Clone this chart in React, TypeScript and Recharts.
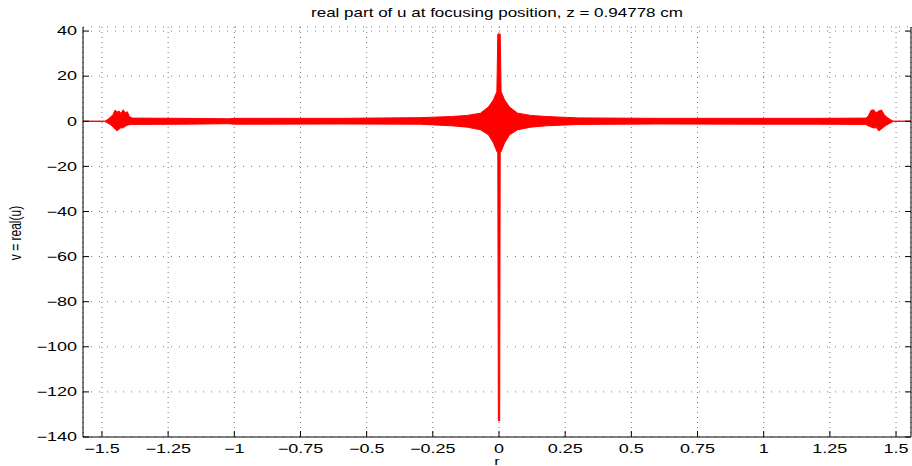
import React from 'react';
import { ComposedChart, Area, XAxis, YAxis, CartesianGrid } from 'recharts';

// envelope of the oscillating field
const rPos = [
  -1.5716, -1.49, -1.478, -1.468, -1.458, -1.45, -1.443, -1.436, -1.428, -1.42, -1.412, -1.404, -1.396, -1.385,
  -1.2, -1.02, -1.0, -0.6, -0.3, -0.18, -0.12, -0.07, -0.04, -0.021, -0.008, -0.0045, -0.0025,
  0.0025, 0.0045, 0.008, 0.021, 0.04, 0.07, 0.12, 0.18, 0.3, 0.6, 1.0, 1.2,
  1.385, 1.395, 1.405, 1.415, 1.425, 1.435, 1.445, 1.455, 1.465, 1.478, 1.49, 1.5565,
];
const vLow = [
  0, 0, -0.8, -1.5, -2.5, -3.5, -4.2, -3.6, -2.8, -3.0, -2.2, -1.8, -1.5, -1.4,
  -1.3, -1.1, -1.3, -1.2, -1.3, -2.0, -2.6, -3.8, -6.0, -9.6, -13.4, -14, -132.8,
  -132.8, -14, -13.4, -9.6, -6.0, -3.8, -2.6, -2.0, -1.4, -1.2, -1.3, -1.3,
  -1.4, -2.0, -2.5, -3.0, -2.8, -4.2, -3.4, -2.4, -1.6, -0.8, 0, 0,
];
const vHigh = [
  0, 0, 0.8, 1.8, 3.0, 5.0, 4.0, 4.6, 3.5, 5.1, 3.8, 4.2, 2.0, 1.4,
  1.3, 1.1, 1.3, 1.3, 1.6, 2.1, 2.6, 3.6, 6.3, 9.5, 13.2, 38.7, 38.7,
  38.7, 38.7, 13.2, 9.5, 6.3, 3.6, 2.6, 2.1, 1.5, 1.3, 1.3, 1.3,
  1.4, 2.2, 4.8, 5.1, 3.8, 4.6, 5.0, 3.0, 1.8, 0.8, 0, 0,
];

const xTicks = [-1.5, -1.25, -1, -0.75, -0.5, -0.25, 0, 0.25, 0.5, 0.75, 1, 1.25, 1.5];
const yTicks = [-140, -120, -100, -80, -60, -40, -20, 0, 20, 40];
const xDomain = [-1.5716, 1.5565];
const yDomain = [-140, 41.8];

const data = rPos.map((r, i) => ({ r, v: [vLow[i], vHigh[i]] }));

const FONT = '"Liberation Sans", Arial, Helvetica, sans-serif';
const fmt = (v: number) => (v < 0 ? '\u2212' + Math.abs(v) : String(v));

const BottomTick = ({ x, y, payload }: any) => (
  <g>
    <line x1={x} y1={y} x2={x} y2={y - 6} stroke="#000" />
    <text
      transform={`translate(${x},${y + 16}) scale(1.5,1)`}
      textAnchor="middle"
      fontSize={12}
      fontFamily={FONT}
      fill="#000"
    >
      {fmt(payload.value)}
    </text>
  </g>
);

const TopTick = ({ x, y }: any) => <line x1={x} y1={y} x2={x} y2={y + 6} stroke="#000" />;

const LeftTick = ({ x, y, payload }: any) => (
  <g>
    <line x1={x} y1={y} x2={x + 6} y2={y} stroke="#000" />
    <text
      transform={`translate(${x - 6},${y + 4.3}) scale(1.5,1)`}
      textAnchor="end"
      fontSize={12}
      fontFamily={FONT}
      fill="#000"
    >
      {fmt(payload.value)}
    </text>
  </g>
);

const RightTick = ({ x, y }: any) => <line x1={x} y1={y} x2={x - 6} y2={y} stroke="#000" />;

export default function App() {
  return (
    <div style={{ position: 'relative', width: 912, height: 466, background: '#fff' }}>
      <style>{'body{margin:0}'}</style>
      <ComposedChart width={912} height={466} data={data} margin={{ top: 27, right: 0, bottom: 0, left: 0 }}>
        <CartesianGrid xAxisId="b" yAxisId="l" horizontal vertical={false} stroke="#777" strokeDasharray="1 7" />
        <CartesianGrid xAxisId="b" yAxisId="l" horizontal={false} vertical stroke="#777" strokeDasharray="1 4" />
        <XAxis
          xAxisId="b"
          dataKey="r"
          type="number"
          domain={xDomain}
          ticks={xTicks}
          interval={0}
          allowDataOverflow
          height={29}
          tickSize={0}
          tickMargin={0}
          tickLine={false}
          tick={BottomTick}
          axisLine={{ stroke: '#000' }}
        />
        <XAxis
          xAxisId="t"
          orientation="top"
          type="number"
          domain={xDomain}
          ticks={xTicks}
          interval={0}
          allowDataOverflow
          height={0}
          tickSize={0}
          tickMargin={0}
          tickLine={false}
          tick={TopTick}
          axisLine={{ stroke: '#000' }}
        />
        <YAxis
          yAxisId="l"
          type="number"
          domain={yDomain}
          ticks={yTicks}
          interval={0}
          allowDataOverflow
          width={83}
          tickSize={0}
          tickMargin={0}
          tickLine={false}
          tick={LeftTick}
          axisLine={{ stroke: '#000' }}
        />
        <YAxis
          yAxisId="rt"
          orientation="right"
          type="number"
          domain={yDomain}
          ticks={yTicks}
          interval={0}
          allowDataOverflow
          width={1}
          tickSize={0}
          tickMargin={0}
          tickLine={false}
          tick={RightTick}
          axisLine={{ stroke: '#000' }}
        />
        <Area
          xAxisId="b"
          yAxisId="l"
          type="linear"
          dataKey="v"
          stroke="#ff0000"
          strokeWidth={1}
          fill="#ff0000"
          fillOpacity={1}
          dot={false}
          activeDot={false}
          isAnimationActive={false}
        />
      </ComposedChart>
      <svg
        width={912}
        height={466}
        style={{ position: 'absolute', left: 0, top: 0, pointerEvents: 'none' }}
        fontFamily={FONT}
      >
        <text transform="translate(497,17) scale(1.31,1)" textAnchor="middle" fontSize={13} fill="#000">
          real part of u at focusing position, z = 0.94778 cm
        </text>
        <text transform="translate(21,233) rotate(-90) scale(1,1.45)" textAnchor="middle" fontSize={12} fill="#000">
          v = real(u)
        </text>
        <text transform="translate(497,465) scale(1.5,1)" textAnchor="middle" fontSize={11} fill="#000">
          r
        </text>
      </svg>
    </div>
  );
}
